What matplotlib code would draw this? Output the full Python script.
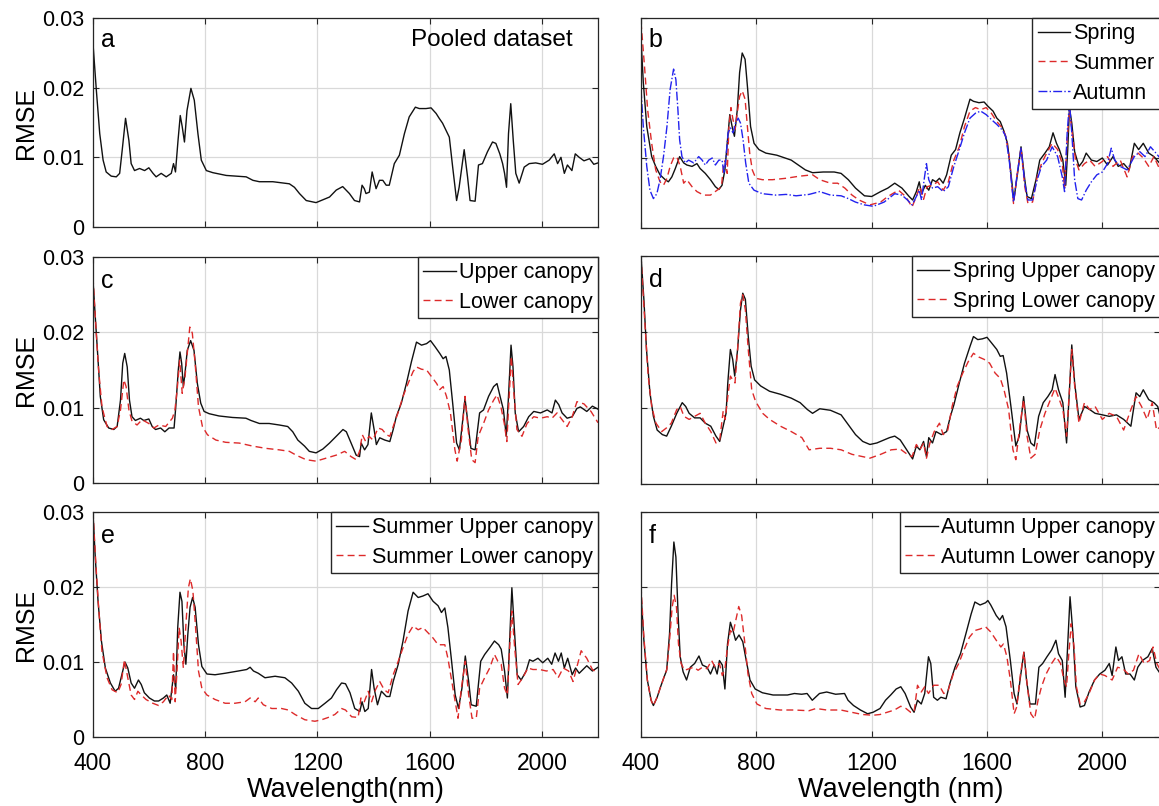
import matplotlib
matplotlib.use('Agg')
import matplotlib.pyplot as plt

plt.rcParams['font.family'] = ['Liberation Sans', 'DejaVu Sans']

###################################
#     Data  #
###################################

# (wavelength nm, RMSE)
pooled = [(400, .0263), (412, .0196), (424, .0134), (436, .0096), (447, .0079), (465, .0073), (483, .0072),
          (495, .0077), (504, .0110), (516, .0156), (528, .0124), (536, .0091), (548, .0081), (566, .0084),
          (584, .0081), (599, .0085), (614, .0077), (625, .0072), (643, .0077), (661, .0072), (679, .0077),
          (687, .0091), (694, .0079), (703, .0124), (711, .0160), (718, .0144), (726, .0122), (735, .0167),
          (749, .0199), (761, .0182), (774, .0134), (786, .0096), (804, .0081), (827, .0078), (875, .0074),
          (946, .0072), (970, .0067), (993, .0065), (1041, .0065), (1100, .0062), (1118, .0057), (1136, .0048),
          (1160, .0038), (1195, .0035), (1219, .0039), (1243, .0043), (1267, .0053), (1290, .0058), (1314, .0048),
          (1332, .0038), (1350, .0036), (1359, .0060), (1367, .0055), (1373, .0048), (1385, .0050), (1395, .0079),
          (1403, .0065), (1409, .0055), (1421, .0067), (1433, .0067), (1445, .0060), (1456, .0060), (1474, .0091),
          (1492, .0103), (1510, .0134), (1527, .0158), (1549, .0172), (1563, .0170), (1587, .0170), (1605, .0171),
          (1623, .0163), (1634, .0156), (1646, .0149), (1658, .0139), (1670, .0129), (1682, .0086), (1696, .0038),
          (1705, .0057), (1723, .0111), (1735, .0072), (1744, .0038), (1762, .0037), (1774, .0089), (1788, .0091),
          (1806, .0108), (1824, .0122), (1836, .0120), (1850, .0105), (1860, .0091), (1867, .0077), (1874, .0057),
          (1881, .0134), (1889, .0177), (1898, .0124), (1907, .0077), (1919, .0063), (1937, .0086), (1955, .0091),
          (1978, .0092), (2002, .0090), (2026, .0096), (2044, .0105), (2056, .0091), (2068, .0100), (2080, .0077),
          (2091, .0089), (2107, .0081), (2119, .0105), (2133, .0100), (2150, .0095), (2170, .0098), (2185, .0090),
          (2200, .0092)]

spring = [(400, .0270), (408, .0208), (420, .0145), (437, .0102), (451, .0088), (466, .0076), (484, .0069),
          (495, .0066), (507, .0073), (519, .0085), (534, .0102), (548, .0093), (559, .0090), (577, .0088),
          (594, .0092), (605, .0085), (623, .0078), (641, .0069), (658, .0059), (670, .0055), (681, .0061),
          (691, .0083), (699, .0121), (708, .0162), (716, .0145), (724, .0131), (734, .0169), (742, .0222),
          (751, .0250), (761, .0241), (770, .0198), (780, .0145), (792, .0121), (809, .0112), (833, .0107),
          (871, .0104), (921, .0097), (970, .0083), (995, .0079), (1032, .0080), (1070, .0080), (1094, .0078),
          (1119, .0069), (1144, .0057), (1175, .0046), (1200, .0045), (1231, .0052), (1256, .0057), (1280, .0064),
          (1305, .0057), (1330, .0045), (1342, .0040), (1355, .0052), (1365, .0066), (1373, .0049), (1386, .0061),
          (1398, .0054), (1411, .0069), (1423, .0066), (1435, .0071), (1448, .0064), (1460, .0076), (1476, .0104),
          (1491, .0112), (1506, .0136), (1522, .0157), (1541, .0184), (1553, .0181), (1572, .0179), (1590, .0180),
          (1603, .0174), (1621, .0167), (1634, .0157), (1646, .0152), (1659, .0138), (1671, .0121), (1683, .0078),
          (1693, .0040), (1706, .0078), (1718, .0116), (1731, .0069), (1739, .0045), (1754, .0042), (1770, .0069),
          (1783, .0097), (1801, .0107), (1816, .0116), (1829, .0136), (1841, .0121), (1851, .0112), (1863, .0097),
          (1873, .0061), (1880, .0112), (1886, .0172), (1894, .0150), (1904, .0109), (1919, .0088), (1932, .0095),
          (1944, .0107), (1962, .0097), (1981, .0095), (2000, .0100), (2018, .0090), (2037, .0102), (2055, .0088),
          (2074, .0092), (2093, .0083), (2111, .0121), (2126, .0112), (2142, .0121), (2161, .0107), (2179, .0102),
          (2200, .0092)]

summer = [(400, .0294), (412, .0232), (423, .0169), (437, .0121), (451, .0083), (466, .0066), (478, .0061),
          (490, .0071), (501, .0088), (513, .0100), (524, .0102), (536, .0088), (548, .0064), (559, .0069),
          (577, .0059), (594, .0052), (617, .0047), (641, .0047), (664, .0054), (679, .0059), (687, .0093),
          (693, .0097), (699, .0078), (705, .0145), (712, .0172), (719, .0155), (726, .0141), (734, .0165),
          (742, .0188), (751, .0196), (761, .0184), (769, .0145), (777, .0107), (786, .0083), (798, .0071),
          (821, .0069), (856, .0069), (902, .0071), (949, .0074), (995, .0076), (1020, .0069), (1057, .0064),
          (1082, .0064), (1107, .0057), (1132, .0047), (1156, .0040), (1194, .0033), (1231, .0037), (1256, .0045),
          (1293, .0054), (1318, .0045), (1340, .0030), (1355, .0045), (1367, .0059), (1380, .0041), (1392, .0059),
          (1411, .0061), (1429, .0066), (1448, .0054), (1466, .0066), (1485, .0097), (1504, .0116), (1522, .0145),
          (1541, .0167), (1560, .0172), (1578, .0169), (1597, .0172), (1615, .0164), (1634, .0152), (1653, .0143),
          (1665, .0131), (1677, .0102), (1692, .0035), (1705, .0078), (1718, .0114), (1731, .0059), (1742, .0035),
          (1758, .0037), (1774, .0073), (1789, .0092), (1807, .0107), (1826, .0121), (1845, .0112), (1861, .0092),
          (1869, .0057), (1878, .0126), (1886, .0169), (1894, .0141), (1907, .0097), (1919, .0083), (1938, .0092),
          (1956, .0097), (1975, .0088), (2000, .0095), (2018, .0102), (2037, .0088), (2062, .0097), (2086, .0073),
          (2105, .0102), (2124, .0107), (2142, .0100), (2161, .0088), (2179, .0102), (2200, .0083)]

autumn = [(400, .0198), (408, .0145), (420, .0088), (431, .0054), (443, .0042), (455, .0049), (466, .0069),
          (478, .0102), (490, .0145), (501, .0198), (513, .0227), (521, .0212), (528, .0169), (534, .0126),
          (542, .0102), (554, .0093), (565, .0097), (583, .0093), (600, .0102), (612, .0097), (623, .0090),
          (635, .0097), (647, .0100), (658, .0090), (670, .0097), (681, .0097), (688, .0078), (695, .0102),
          (702, .0136), (710, .0143), (719, .0136), (728, .0150), (737, .0157), (745, .0150), (754, .0126),
          (763, .0093), (774, .0064), (792, .0054), (821, .0049), (868, .0047), (903, .0048), (938, .0046),
          (983, .0048), (1020, .0052), (1057, .0047), (1094, .0046), (1119, .0042), (1144, .0037), (1175, .0033),
          (1206, .0031), (1243, .0037), (1280, .0049), (1305, .0047), (1324, .0040), (1340, .0033), (1355, .0045),
          (1365, .0054), (1373, .0040), (1382, .0069), (1390, .0092), (1398, .0069), (1411, .0057), (1429, .0059),
          (1448, .0052), (1466, .0059), (1485, .0088), (1504, .0112), (1522, .0136), (1541, .0157), (1560, .0164),
          (1578, .0167), (1597, .0162), (1615, .0155), (1634, .0148), (1653, .0140), (1665, .0131), (1677, .0097),
          (1692, .0037), (1705, .0078), (1718, .0114), (1731, .0064), (1742, .0040), (1758, .0040), (1774, .0069),
          (1789, .0088), (1807, .0097), (1826, .0116), (1845, .0102), (1861, .0073), (1869, .0052), (1878, .0136),
          (1886, .0179), (1894, .0136), (1904, .0069), (1915, .0042), (1928, .0040), (1944, .0054), (1962, .0066),
          (1981, .0076), (2000, .0080), (2018, .0092), (2031, .0114), (2043, .0097), (2062, .0088), (2086, .0083),
          (2111, .0102), (2130, .0109), (2148, .0102), (2167, .0116), (2186, .0107), (2200, .0100)]

upper = [(400, .0269), (408, .0221), (418, .0163), (426, .0115), (438, .0084), (456, .0073), (474, .0071),
         (486, .0075), (498, .0110), (506, .0159), (513, .0172), (522, .0154), (530, .0110), (539, .0088),
         (551, .0083), (569, .0086), (581, .0083), (599, .0085), (611, .0075), (623, .0071), (641, .0073),
         (656, .0068), (671, .0073), (689, .0073), (695, .0101), (704, .0150), (710, .0174), (716, .0159),
         (722, .0128), (728, .0146), (736, .0176), (748, .0189), (760, .0176), (772, .0132), (784, .0106),
         (796, .0095), (814, .0092), (849, .0089), (897, .0087), (945, .0086), (963, .0083), (993, .0079),
         (1028, .0079), (1064, .0077), (1094, .0075), (1112, .0068), (1130, .0057), (1154, .0049), (1171, .0042),
         (1195, .0040), (1219, .0045), (1243, .0053), (1267, .0062), (1291, .0071), (1303, .0068), (1320, .0053),
         (1338, .0037), (1350, .0035), (1356, .0053), (1368, .0044), (1380, .0051), (1392, .0093), (1402, .0071),
         (1410, .0051), (1422, .0060), (1440, .0057), (1458, .0055), (1470, .0071), (1481, .0088), (1499, .0106),
         (1517, .0132), (1535, .0161), (1553, .0187), (1571, .0183), (1589, .0185), (1603, .0189), (1619, .0181),
         (1636, .0172), (1648, .0165), (1658, .0168), (1670, .0150), (1682, .0106), (1696, .0053), (1706, .0044),
         (1718, .0084), (1726, .0112), (1735, .0084), (1747, .0046), (1762, .0044), (1778, .0093), (1792, .0097),
         (1810, .0115), (1828, .0128), (1840, .0132), (1851, .0115), (1863, .0097), (1873, .0062), (1881, .0115),
         (1890, .0183), (1897, .0154), (1905, .0093), (1917, .0068), (1935, .0075), (1953, .0088), (1971, .0095),
         (1995, .0093), (2019, .0097), (2036, .0093), (2048, .0110), (2060, .0104), (2072, .0093), (2090, .0086),
         (2108, .0088), (2125, .0099), (2137, .0101), (2160, .0095), (2180, .0102), (2200, .0098)]

lower = [(400, .0273), (411, .0203), (420, .0150), (432, .0101), (450, .0075), (468, .0071), (486, .0075),
         (498, .0097), (510, .0137), (518, .0128), (528, .0097), (539, .0082), (557, .0077), (575, .0084),
         (599, .0079), (617, .0073), (635, .0077), (659, .0075), (683, .0086), (692, .0097), (700, .0124),
         (709, .0163), (718, .0119), (728, .0141), (736, .0172), (745, .0207), (754, .0199), (764, .0159),
         (776, .0101), (790, .0075), (808, .0064), (838, .0057), (873, .0054), (921, .0053), (969, .0049),
         (1016, .0046), (1064, .0044), (1100, .0042), (1124, .0037), (1159, .0031), (1195, .0029), (1231, .0033),
         (1267, .0037), (1297, .0042), (1320, .0035), (1338, .0031), (1350, .0042), (1360, .0064), (1372, .0055),
         (1384, .0062), (1398, .0057), (1416, .0073), (1431, .0071), (1446, .0064), (1458, .0062), (1470, .0075),
         (1487, .0093), (1505, .0115), (1523, .0132), (1541, .0148), (1553, .0154), (1571, .0151), (1589, .0150),
         (1607, .0141), (1625, .0132), (1636, .0124), (1648, .0128), (1660, .0115), (1674, .0093), (1690, .0044),
         (1698, .0029), (1713, .0057), (1726, .0115), (1737, .0071), (1750, .0031), (1762, .0027), (1773, .0062),
         (1792, .0079), (1810, .0097), (1828, .0110), (1840, .0117), (1854, .0101), (1866, .0079), (1875, .0055),
         (1884, .0119), (1891, .0168), (1899, .0124), (1911, .0071), (1929, .0062), (1947, .0079), (1971, .0088),
         (1995, .0086), (2019, .0088), (2036, .0086), (2054, .0093), (2072, .0084), (2090, .0075), (2108, .0088),
         (2125, .0108), (2150, .0105), (2175, .0095), (2200, .0080)]

spring_upper = [(400, .0300), (410, .0243), (419, .0177), (431, .0120), (443, .0089), (456, .0071), (474, .0065),
                (489, .0063), (505, .0076), (524, .0093), (543, .0107), (555, .0102), (567, .0093), (586, .0087),
                (605, .0087), (623, .0080), (642, .0076), (660, .0063), (673, .0056), (685, .0076), (695, .0093),
                (701, .0133), (710, .0177), (718, .0164), (725, .0142), (735, .0177), (745, .0229), (753, .0251),
                (762, .0243), (772, .0194), (782, .0155), (794, .0137), (815, .0129), (846, .0122), (884, .0118),
                (921, .0113), (952, .0107), (977, .0098), (995, .0093), (1020, .0099), (1057, .0097), (1094, .0091),
                (1119, .0078), (1144, .0065), (1169, .0056), (1194, .0052), (1218, .0054), (1243, .0058),
                (1262, .0061), (1280, .0063), (1299, .0058), (1318, .0047), (1342, .0033), (1355, .0050),
                (1367, .0045), (1380, .0056), (1390, .0036), (1398, .0061), (1411, .0054), (1423, .0069),
                (1442, .0065), (1460, .0069), (1473, .0089), (1485, .0104), (1504, .0133), (1522, .0159),
                (1541, .0181), (1553, .0194), (1568, .0190), (1584, .0191), (1600, .0193), (1615, .0186),
                (1634, .0177), (1646, .0168), (1656, .0169), (1668, .0146), (1683, .0102), (1700, .0050),
                (1712, .0063), (1727, .0115), (1739, .0071), (1752, .0054), (1764, .0050), (1779, .0089),
                (1795, .0107), (1811, .0115), (1826, .0124), (1836, .0144), (1848, .0124), (1863, .0107),
                (1876, .0054), (1886, .0124), (1894, .0183), (1904, .0133), (1919, .0085), (1938, .0102),
                (1956, .0098), (1975, .0093), (2000, .0091), (2024, .0089), (2049, .0091), (2074, .0085),
                (2099, .0076), (2117, .0120), (2130, .0115), (2142, .0124), (2161, .0111), (2179, .0107),
                (2192, .0102), (2200, .0090)]

spring_lower = [(400, .0300), (412, .0221), (425, .0142), (437, .0102), (452, .0080), (472, .0069), (489, .0074),
                (505, .0080), (524, .0098), (536, .0102), (549, .0089), (567, .0085), (586, .0089), (605, .0093),
                (623, .0080), (642, .0069), (660, .0054), (673, .0058), (685, .0096), (692, .0085), (701, .0115),
                (710, .0142), (718, .0137), (726, .0133), (735, .0177), (745, .0238), (753, .0249), (762, .0229),
                (772, .0177), (784, .0124), (797, .0109), (822, .0093), (846, .0085), (884, .0076), (921, .0069),
                (958, .0061), (983, .0045), (1020, .0047), (1057, .0047), (1094, .0045), (1132, .0039),
                (1169, .0036), (1194, .0034), (1231, .0039), (1268, .0045), (1299, .0046), (1324, .0039),
                (1340, .0036), (1355, .0052), (1367, .0045), (1380, .0054), (1390, .0034), (1402, .0054),
                (1417, .0069), (1435, .0080), (1448, .0065), (1464, .0071), (1479, .0102), (1497, .0129),
                (1516, .0146), (1535, .0161), (1553, .0172), (1572, .0167), (1590, .0164), (1609, .0159),
                (1628, .0146), (1646, .0139), (1659, .0124), (1675, .0098), (1690, .0045), (1700, .0032),
                (1714, .0076), (1727, .0111), (1739, .0063), (1752, .0034), (1767, .0039), (1783, .0071),
                (1801, .0093), (1820, .0111), (1836, .0126), (1851, .0111), (1863, .0098), (1876, .0063),
                (1886, .0124), (1894, .0177), (1904, .0129), (1919, .0080), (1938, .0107), (1956, .0098),
                (1975, .0102), (2000, .0085), (2024, .0093), (2049, .0089), (2074, .0071), (2099, .0098),
                (2117, .0115), (2136, .0102), (2155, .0085), (2173, .0107), (2188, .0071), (2200, .0075)]

summer_upper = [(400, .0298), (408, .0240), (418, .0181), (430, .0128), (444, .0092), (462, .0072), (479, .0061),
                (491, .0065), (506, .0088), (514, .0100), (524, .0092), (536, .0072), (548, .0065), (562, .0076),
                (572, .0070), (583, .0059), (601, .0052), (619, .0048), (634, .0048), (651, .0052), (663, .0056),
                (675, .0045), (687, .0083), (695, .0065), (702, .0146), (710, .0193), (717, .0181), (724, .0123),
                (731, .0097), (738, .0137), (746, .0173), (755, .0186), (764, .0173), (776, .0123), (788, .0094),
                (806, .0084), (835, .0083), (871, .0085), (918, .0088), (948, .0090), (960, .0093), (972, .0088),
                (989, .0085), (1013, .0079), (1049, .0081), (1084, .0079), (1108, .0072), (1132, .0061),
                (1155, .0045), (1179, .0038), (1203, .0038), (1227, .0045), (1250, .0052), (1268, .0063),
                (1286, .0072), (1300, .0071), (1316, .0059), (1333, .0038), (1351, .0034), (1359, .0047),
                (1369, .0034), (1381, .0038), (1393, .0090), (1402, .0065), (1414, .0043), (1428, .0061),
                (1446, .0054), (1458, .0054), (1470, .0074), (1488, .0097), (1505, .0128), (1523, .0168),
                (1541, .0193), (1559, .0186), (1576, .0188), (1594, .0191), (1612, .0181), (1630, .0175),
                (1642, .0166), (1654, .0172), (1665, .0146), (1677, .0105), (1691, .0056), (1703, .0038),
                (1715, .0065), (1727, .0108), (1739, .0074), (1748, .0043), (1766, .0041), (1782, .0101),
                (1796, .0110), (1814, .0119), (1831, .0128), (1846, .0123), (1855, .0117), (1867, .0088),
                (1877, .0052), (1885, .0128), (1893, .0199), (1903, .0137), (1912, .0083), (1926, .0076),
                (1944, .0088), (1956, .0103), (1968, .0101), (1986, .0105), (2003, .0099), (2021, .0105),
                (2035, .0097), (2047, .0112), (2059, .0101), (2069, .0112), (2080, .0092), (2092, .0105),
                (2108, .0083), (2120, .0092), (2133, .0085), (2160, .0095), (2180, .0088), (2200, .0093)]

summer_lower = [(400, .0300), (411, .0226), (420, .0173), (432, .0114), (450, .0079), (468, .0063), (488, .0059),
                (500, .0070), (512, .0103), (524, .0079), (536, .0056), (548, .0050), (560, .0061), (572, .0056),
                (589, .0050), (613, .0045), (634, .0042), (651, .0047), (669, .0056), (681, .0050), (687, .0114),
                (693, .0047), (700, .0092), (707, .0146), (714, .0128), (722, .0092), (732, .0155), (740, .0199),
                (747, .0211), (756, .0195), (764, .0155), (776, .0088), (788, .0065), (806, .0056), (835, .0050),
                (871, .0045), (906, .0045), (942, .0047), (960, .0052), (978, .0047), (989, .0052), (1007, .0043),
                (1037, .0038), (1072, .0038), (1096, .0036), (1120, .0030), (1155, .0023), (1191, .0021),
                (1215, .0023), (1238, .0026), (1262, .0030), (1286, .0038), (1300, .0036), (1322, .0027),
                (1345, .0026), (1355, .0052), (1367, .0047), (1381, .0061), (1393, .0047), (1407, .0063),
                (1422, .0074), (1438, .0063), (1452, .0059), (1470, .0083), (1488, .0101), (1505, .0119),
                (1523, .0137), (1541, .0148), (1559, .0143), (1576, .0146), (1594, .0139), (1612, .0132),
                (1630, .0123), (1654, .0123), (1665, .0105), (1683, .0065), (1701, .0025), (1713, .0065),
                (1727, .0101), (1739, .0056), (1751, .0025), (1766, .0025), (1778, .0065), (1796, .0079),
                (1814, .0092), (1831, .0110), (1843, .0101), (1855, .0097), (1867, .0065), (1877, .0056),
                (1885, .0119), (1893, .0168), (1903, .0119), (1915, .0070), (1932, .0079), (1950, .0092),
                (1968, .0090), (1992, .0090), (2016, .0088), (2040, .0090), (2058, .0079), (2076, .0092),
                (2095, .0088), (2111, .0074), (2140, .0115), (2160, .0105), (2180, .0090), (2200, .0085)]

autumn_upper = [(400, .0191), (410, .0129), (422, .0076), (435, .0049), (443, .0042), (456, .0053), (468, .0067),
                (480, .0080), (489, .0089), (499, .0138), (506, .0204), (514, .0260), (521, .0240), (529, .0160),
                (536, .0107), (546, .0087), (558, .0076), (571, .0093), (586, .0098), (601, .0108), (613, .0096),
                (629, .0093), (641, .0084), (654, .0096), (664, .0084), (672, .0102), (682, .0096), (691, .0064),
                (700, .0124), (710, .0153), (719, .0142), (728, .0129), (740, .0136), (753, .0127), (765, .0102),
                (778, .0076), (796, .0064), (821, .0059), (858, .0056), (908, .0056), (932, .0058), (957, .0057),
                (976, .0058), (994, .0049), (1019, .0058), (1044, .0060), (1075, .0057), (1106, .0058),
                (1118, .0049), (1137, .0042), (1161, .0036), (1186, .0031), (1205, .0033), (1229, .0038),
                (1248, .0049), (1266, .0056), (1285, .0064), (1301, .0067), (1316, .0058), (1335, .0040),
                (1347, .0033), (1359, .0049), (1372, .0044), (1384, .0058), (1397, .0107), (1405, .0098),
                (1415, .0053), (1428, .0049), (1440, .0053), (1458, .0051), (1471, .0071), (1489, .0093),
                (1508, .0111), (1527, .0138), (1545, .0164), (1558, .0180), (1576, .0176), (1595, .0179),
                (1603, .0182), (1613, .0176), (1632, .0162), (1644, .0156), (1654, .0162), (1666, .0147),
                (1681, .0102), (1694, .0058), (1704, .0044), (1716, .0080), (1728, .0113), (1737, .0076),
                (1749, .0044), (1768, .0044), (1780, .0093), (1793, .0098), (1808, .0107), (1824, .0116),
                (1839, .0129), (1848, .0111), (1861, .0102), (1871, .0053), (1879, .0116), (1888, .0187),
                (1898, .0138), (1908, .0067), (1923, .0040), (1938, .0042), (1954, .0060), (1973, .0076),
                (1991, .0084), (2009, .0089), (2024, .0098), (2034, .0082), (2047, .0120), (2056, .0102),
                (2068, .0107), (2081, .0084), (2096, .0084), (2111, .0076), (2123, .0093), (2139, .0102),
                (2158, .0107), (2173, .0118), (2186, .0093), (2200, .0085)]

autumn_lower = [(400, .0201), (410, .0133), (422, .0076), (435, .0049), (443, .0042), (456, .0053), (468, .0067),
                (480, .0080), (490, .0091), (499, .0129), (508, .0173), (515, .0189), (523, .0173), (530, .0124),
                (539, .0098), (551, .0089), (567, .0091), (583, .0093), (598, .0089), (613, .0093), (629, .0091),
                (645, .0102), (657, .0093), (672, .0098), (682, .0082), (691, .0091), (700, .0120), (710, .0142),
                (719, .0138), (729, .0156), (739, .0174), (749, .0162), (759, .0129), (771, .0084), (784, .0058),
                (802, .0044), (833, .0038), (883, .0036), (932, .0036), (982, .0035), (1007, .0038), (1044, .0036),
                (1093, .0036), (1130, .0033), (1168, .0030), (1205, .0029), (1229, .0030), (1254, .0033),
                (1279, .0036), (1301, .0041), (1319, .0038), (1335, .0033), (1347, .0033), (1359, .0069),
                (1372, .0060), (1384, .0067), (1397, .0058), (1415, .0069), (1434, .0069), (1450, .0058),
                (1465, .0062), (1483, .0084), (1502, .0098), (1520, .0116), (1539, .0133), (1558, .0142),
                (1576, .0144), (1595, .0147), (1613, .0140), (1632, .0129), (1648, .0120), (1657, .0124),
                (1669, .0107), (1681, .0076), (1694, .0031), (1703, .0040), (1716, .0084), (1728, .0113),
                (1740, .0067), (1752, .0031), (1765, .0024), (1777, .0049), (1789, .0067), (1805, .0084),
                (1824, .0098), (1840, .0107), (1855, .0098), (1867, .0076), (1876, .0067), (1883, .0107),
                (1892, .0151), (1902, .0120), (1910, .0067), (1923, .0044), (1938, .0047), (1954, .0058),
                (1973, .0076), (1991, .0084), (2009, .0082), (2034, .0076), (2053, .0093), (2071, .0091),
                (2090, .0084), (2108, .0089), (2127, .0111), (2145, .0098), (2164, .0102), (2176, .0120),
                (2189, .0098), (2200, .0090)]

x_ticks = [400, 800, 1200, 1600, 2000]
y_ticks = [0, 0.01, 0.02, 0.03]
y_ticklabels = ['0', '0.01', '0.02', '0.03']

###################################
#     Style                       #
###################################

BLACK = '#111111'
RED = '#dd2a2a'
BLUE = '#2222ee'
AXC = '#262626'


def split(pts):
    return [p[0] for p in pts], [p[1] for p in pts]


def setup(ax, left_col, bottom_row):
    ax.set_xlim(400, 2200)
    ax.set_ylim(0, 0.03)
    ax.set_xticks(x_ticks)
    ax.set_yticks(y_ticks)
    ax.grid(True, color='#d9d9d9', lw=0.9)
    ax.set_axisbelow(True)
    ax.tick_params(direction='in', top=True, right=True, length=4, width=0.8,
                   color=AXC, labelsize=15.5, pad=6)
    ax.tick_params(axis='x', labelsize=16.5, pad=11)
    for s in ax.spines.values():
        s.set_color(AXC)
        s.set_linewidth(0.9)
    if left_col:
        ax.set_yticklabels(y_ticklabels)
        ax.set_ylabel('RMSE', fontsize=18, labelpad=3)
    else:
        ax.set_yticklabels([])
    if not bottom_row:
        ax.set_xticklabels([])


def legend(ax):
    ax.legend(loc='upper right', bbox_to_anchor=(1.0, 1.0), borderaxespad=0,
              fontsize=15.5, handlelength=1.5, handletextpad=0.15, borderpad=0.25,
              labelspacing=0.4, fancybox=False, framealpha=1, edgecolor=AXC)


W, H = 1159, 806
fig = plt.figure(figsize=(W / 100, H / 100), dpi=100)


def box(x0, x1, top, bottom):
    return [x0 / W, 1 - bottom / H, (x1 - x0) / W, (bottom - top) / H]


axa = fig.add_axes(box(93, 598, 18, 227))
axb = fig.add_axes(box(641, 1160, 18, 228))
axc = fig.add_axes(box(93, 598, 257, 483))
axd = fig.add_axes(box(641, 1160, 256, 484))
axe = fig.add_axes(box(93, 598, 512, 737))
axf = fig.add_axes(box(641, 1160, 512, 737))

lw = 1.0
dash = (0, (5, 3))

# a
x, y = split(pooled)
axa.plot(x, y, color=BLACK, lw=lw)
setup(axa, True, False)
axa.text(0.015, 0.895, 'a', transform=axa.transAxes, fontsize=18, va='center')
axa.text(0.95, 0.895, 'Pooled dataset', transform=axa.transAxes, fontsize=17.5,
         va='center', ha='right')

# b
x, y = split(spring)
axb.plot(x, y, color=BLACK, lw=lw, label='Spring')
x, y = split(summer)
axb.plot(x, y, color=RED, lw=lw, linestyle=dash, label='Summer')
x, y = split(autumn)
axb.plot(x, y, color=BLUE, lw=lw, linestyle='-.', label='Autumn')
setup(axb, False, False)
axb.text(0.015, 0.895, 'b', transform=axb.transAxes, fontsize=18, va='center')
legend(axb)

# c
x, y = split(upper)
axc.plot(x, y, color=BLACK, lw=lw, label='Upper canopy')
x, y = split(lower)
axc.plot(x, y, color=RED, lw=lw, linestyle=dash, label='Lower canopy')
setup(axc, True, False)
axc.text(0.015, 0.895, 'c', transform=axc.transAxes, fontsize=18, va='center')
legend(axc)

# d
x, y = split(spring_upper)
axd.plot(x, y, color=BLACK, lw=lw, label='Spring Upper canopy')
x, y = split(spring_lower)
axd.plot(x, y, color=RED, lw=lw, linestyle=dash, label='Spring Lower canopy')
setup(axd, False, False)
axd.text(0.015, 0.895, 'd', transform=axd.transAxes, fontsize=18, va='center')
legend(axd)

# e
x, y = split(summer_upper)
axe.plot(x, y, color=BLACK, lw=lw, label='Summer Upper canopy')
x, y = split(summer_lower)
axe.plot(x, y, color=RED, lw=lw, linestyle=dash, label='Summer Lower canopy')
setup(axe, True, True)
axe.set_xlabel('Wavelength(nm)', fontsize=19.5, labelpad=1)
axe.text(0.015, 0.895, 'e', transform=axe.transAxes, fontsize=18, va='center')
legend(axe)

# f
x, y = split(autumn_upper)
axf.plot(x, y, color=BLACK, lw=lw, label='Autumn Upper canopy')
x, y = split(autumn_lower)
axf.plot(x, y, color=RED, lw=lw, linestyle=dash, label='Autumn Lower canopy')
setup(axf, False, True)
axf.set_xlabel('Wavelength (nm)', fontsize=19.5, labelpad=1)
axf.text(0.015, 0.895, 'f', transform=axf.transAxes, fontsize=18, va='center')
legend(axf)

plt.savefig('out.png', dpi=100)
